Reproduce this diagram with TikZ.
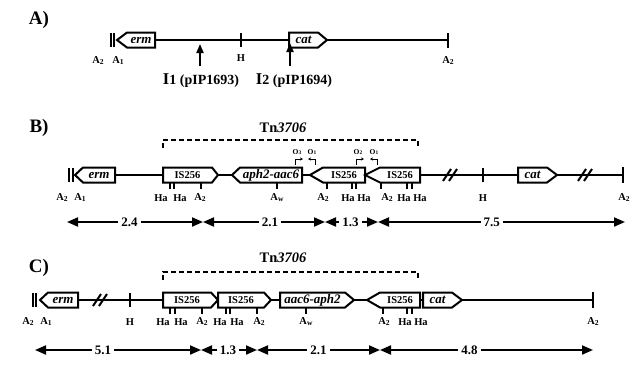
\documentclass[tikz,border=0pt]{standalone}
\usepackage{fontspec}
\usepackage{graphicx}
\setmainfont{Liberation Serif}
\usetikzlibrary{arrows.meta}
\tikzset{
  backbone/.style={line width=2pt},
  genebox/.style={line width=2pt, fill=white, line join=miter},
  genetext/.style={font=\fontsize{13}{13}\selectfont\bfseries\itshape, inner sep=0pt},
  istext/.style={font=\fontsize{10.5}{10.5}\selectfont\bfseries, inner sep=0pt},
  site/.style={font=\fontsize{10.5}{10.5}\selectfont\bfseries, inner sep=0pt},
  tickmark/.style={line width=1.8pt},
  sitetick/.style={line width=1.4pt},
  slash/.style={line width=2pt},
  dist/.style={line width=2pt, {Triangle[length=11pt,width=9pt]}-{Triangle[length=11pt,width=9pt]}},
  distlabel/.style={font=\fontsize{13}{13}\selectfont\bfseries, fill=white, inner xsep=3pt, inner ysep=1pt},
  panel/.style={font=\fontsize{19}{19}\selectfont\bfseries, inner sep=0pt},
  tnlabel/.style={font=\fontsize{14.5}{14.5}\selectfont\bfseries, inner sep=0pt},
  bracket/.style={line width=1.6pt, dash pattern=on 5pt off 3pt},
  insert/.style={line width=2pt, -{Triangle[length=9pt,width=7pt]}},
  inslabel/.style={font=\fontsize{14}{14}\selectfont\bfseries, inner sep=0pt},
  prom/.style={line width=0.8pt, -{Stealth[length=3pt,width=3pt]}},
  promtext/.style={font=\fontsize{7.5}{7.5}\selectfont\bfseries, inner sep=0pt},
}
% gene pointing right: name, left x, corner x, tip x, centre y, text, text style
\newcommand\generight[7]{%
  \draw[genebox] (#2,#5-7.5) -- (#3,#5-7.5) -- (#4,#5) -- (#3,#5+7.5) -- (#2,#5+7.5) -- cycle;
  \node[#7] (#1) at ({(#2+#3)/2},#5) {#6};}
% gene pointing left: name, tip x, corner x, right x, centre y, text, text style
\newcommand\geneleft[7]{%
  \draw[genebox] (#2,#5) -- (#3,#5-7.5) -- (#4,#5-7.5) -- (#4,#5+7.5) -- (#3,#5+7.5) -- cycle;
  \node[#7] (#1) at ({(#3+#4)/2},#5) {#6};}
\newcommand\sitetk[3]{\draw[sitetick] (#1,#2) -- (#1,#3);}
\newcommand\subtxt[1]{\raisebox{-0.2ex}{\scalebox{0.72}{#1}}}
\newcommand\dblbar[3]{\draw[line width=1.4pt] (#1,#3-7) -- (#1,#3+7) (#2,#3-7) -- (#2,#3+7);}
\newcommand\brk[2]{\draw[slash] (#1-7,#2+6) -- (#1+1,#2-6) (#1-1,#2+6) -- (#1+7,#2-6);}

\begin{document}
\begin{tikzpicture}[x=1pt,y=-1pt]
\useasboundingbox (0,0) rectangle (632,367);

% ---------------- A) ----------------
\node[panel] (pa) at (39,20) {A)};
\coordinate (aL) at (117,40);
\coordinate (aR) at (448,40);
\draw[backbone] (aL) -- (aR);
\dblbar{111}{114}{40}
\geneleft{aerm}{117}{127}{155}{40}{erm}{genetext}
\generight{acat}{289}{318}{327}{40}{cat}{genetext}
\draw[tickmark] (241,33) -- (241,47);
\draw[tickmark] (448,33) -- (448,48);
\node[site] (aH) at (241,58) {H};
\node[site] (aA2r) at (448,61) {A\subtxt{2}};
\node[site] (aA2) at (98,61) {A\subtxt{2}};
\node[site] (aA1) at (118,61) {A\subtxt{1}};
\coordinate (i1s) at (200,66);
\coordinate (i1e) at (200,44);
\coordinate (i2s) at (290,66);
\coordinate (i2e) at (290,43);
\draw[insert] (i1s) -- (i1e);
\draw[insert] (i2s) -- (i2e);
\node[inslabel] (i1) at (201,81) {{\fontsize{16.5}{16.5}\selectfont I}1 (pIP1693)};
\node[inslabel] (i2) at (294,81) {{\fontsize{16.5}{16.5}\selectfont I}2 (pIP1694)};

% ---------------- B) ----------------
\node[panel] (pb) at (39,128) {B)};
\node[tnlabel] (tnb) at (283,128) {Tn\textit{3706}};
\draw[bracket] (163,148) -- (163,140) -- (418,140) -- (418,148);
\coordinate (bL) at (75,175);
\coordinate (bM) at (163,175);
\coordinate (bR) at (623,175);
\draw[line width=1.3pt] (bL) -- (bM);
\draw[backbone] (bM) -- (bR);
\dblbar{69}{73}{175}
\geneleft{berm}{75}{83}{115}{175}{erm}{genetext}
\generight{bis1}{163}{212}{218}{175}{IS256}{istext}
\geneleft{baph}{232}{240}{302}{175}{aph2-aac6}{genetext}
\geneleft{bis2}{310}{323}{365}{175}{IS256}{istext}
\geneleft{bis3}{365}{380}{420}{175}{IS256}{istext}
\generight{bcat}{518}{547}{557}{175}{cat}{genetext}
\brk{450}{175}
\brk{585}{175}
\draw[tickmark] (483,168) -- (483,182);
\draw[tickmark] (623,167) -- (623,183);
% promoters
\node[promtext] (bo3) at (297,152) {O\subtxt{3}};
\node[promtext] (bo1a) at (312,152) {O\subtxt{1}};
\node[promtext] (bo2) at (358,152) {O\subtxt{2}};
\node[promtext] (bo1b) at (374,152) {O\subtxt{1}};
\draw[prom] (295,165) -- (295,159) -- (303,159);
\draw[prom] (315,165) -- (315,159) -- (308,159);
\draw[prom] (356,165) -- (356,159) -- (364,159);
\draw[prom] (377,165) -- (377,159) -- (370,159);
% sites
\sitetk{170}{183}{189}\sitetk{174}{183}{189}\sitetk{201}{183}{189}
\sitetk{277}{183}{189}
\sitetk{327}{183}{189}\sitetk{352}{183}{189}\sitetk{356}{183}{189}
\sitetk{381}{183}{189}\sitetk{407}{183}{189}\sitetk{412}{183}{189}
\node[site] at (62,198) {A\subtxt{2}};
\node[site] at (80,198) {A\subtxt{1}};
\node[site] at (161,198) {Ha};
\node[site] at (180,198) {Ha};
\node[site] at (200,198) {A\subtxt{2}};
\node[site] at (277,198) {A\subtxt{w}};
\node[site] at (323,198) {A\subtxt{2}};
\node[site] at (348,198) {Ha};
\node[site] at (364,198) {Ha};
\node[site] at (387,198) {A\subtxt{2}};
\node[site] at (404,198) {Ha};
\node[site] at (420,198) {Ha};
\node[site] at (483,198) {H};
\node[site] at (624,198) {A\subtxt{2}};
% distances
\coordinate (bd0) at (67,222);
\coordinate (bd1) at (203,222);
\coordinate (bd2) at (325,222);
\coordinate (bd3) at (378,222);
\coordinate (bd4) at (625,222);
\draw[dist] (bd0) -- node[distlabel, pos=0.46] {2.4} (bd1);
\draw[dist] (bd1) -- node[distlabel, pos=0.55] {2.1} (bd2);
\draw[dist] (bd2) -- node[distlabel, pos=0.48] {1.3} (bd3);
\draw[dist] (bd3) -- node[distlabel, pos=0.46] {7.5} (bd4);

% ---------------- C) ----------------
\node[panel] (pc) at (39,268) {C)};
\node[tnlabel] (tnc) at (283,258) {Tn\textit{3706}};
\draw[bracket] (163,280) -- (163,272) -- (418,272) -- (418,280);
\coordinate (cL) at (40,300);
\coordinate (cR) at (593,300);
\draw[backbone] (cL) -- (cR);
\dblbar{33}{36}{300}
\geneleft{cerm}{40}{48}{78}{300}{erm}{genetext}
\generight{cis1}{163}{211}{218}{300}{IS256}{istext}
\generight{cis2}{218}{264}{271}{300}{IS256}{istext}
\generight{caac}{280}{345}{354}{300}{aac6-aph2}{genetext}
\geneleft{cis3}{367}{380}{420}{300}{IS256}{istext}
\generight{ccat}{423}{452}{462}{300}{cat}{genetext}
\brk{100}{300}
\draw[tickmark] (130,293) -- (130,307);
\draw[tickmark] (593,292) -- (593,308);
% sites
\sitetk{170}{308}{314}\sitetk{175}{308}{314}\sitetk{202}{308}{314}
\sitetk{226}{308}{314}\sitetk{230}{308}{314}\sitetk{257}{308}{314}
\sitetk{306}{308}{314}
\sitetk{383}{308}{314}\sitetk{407}{308}{314}\sitetk{412}{308}{314}
\node[site] at (28,322) {A\subtxt{2}};
\node[site] at (46,322) {A\subtxt{1}};
\node[site] at (130,322) {H};
\node[site] at (163,322) {Ha};
\node[site] at (181,322) {Ha};
\node[site] at (202,322) {A\subtxt{2}};
\node[site] at (220,322) {Ha};
\node[site] at (237,322) {Ha};
\node[site] at (259,322) {A\subtxt{2}};
\node[site] at (306,322) {A\subtxt{w}};
\node[site] at (384,322) {A\subtxt{2}};
\node[site] at (405,322) {Ha};
\node[site] at (421,322) {Ha};
\node[site] at (593,322) {A\subtxt{2}};
% distances
\coordinate (cd0) at (35,350);
\coordinate (cd1) at (201,350);
\coordinate (cd2) at (257,350);
\coordinate (cd3) at (380,350);
\coordinate (cd4) at (593,350);
\draw[dist] (cd0) -- node[distlabel, pos=0.41] {5.1} (cd1);
\draw[dist] (cd1) -- node[distlabel, pos=0.48] {1.3} (cd2);
\draw[dist] (cd2) -- node[distlabel, pos=0.5] {2.1} (cd3);
\draw[dist] (cd3) -- node[distlabel, pos=0.42] {4.8} (cd4);
\end{tikzpicture}
\end{document}
